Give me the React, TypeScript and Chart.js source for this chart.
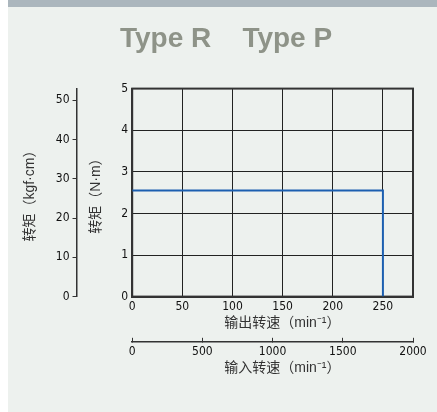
import React, { useEffect, useRef } from "react";
import { Chart, registerables } from "chart.js";

Chart.register(...registerables);

// ---- data ----
const outputSpeedTicks = [0, 50, 100, 150, 200, 250];
const inputSpeedTicks = [0, 500, 1000, 1500, 2000];
const torqueNmTicks = [0, 1, 2, 3, 4, 5];
const torqueKgfTicks = [0, 10, 20, 30, 40, 50];
const outputSpeedMax = 280;
const inputSpeedMax = 2000;
const torqueNmMax = 5;
const torqueKgfMax = 53;
const curveSpeed = [0, 250, 250];
const curveTorque = [2.55, 2.55, 0];

const titleText = "    Type R    Type P";
const xTitle = "     输出转速（min⁻¹）";
const x2Title = "     输入转速（min⁻¹）";
const yTitle = "转矩（N·m）";
const y2Title = "转矩（kgf·cm）";

const narrow = "'DejaVu Sans Condensed', 'Liberation Sans Narrow', 'Liberation Sans', sans-serif";
const cjk = "'Liberation Sans', 'Noto Sans CJK SC', sans-serif";

const tickFont = { family: narrow, size: 12 };
const titleFont = { family: cjk, size: 14 };
const ink = "#111";

const framePlugin = {
  id: "frame",
  beforeDatasetsDraw(chart: any) {
    const { ctx, chartArea } = chart;
    ctx.save();
    ctx.strokeStyle = "#333";
    ctx.lineWidth = 2;
    ctx.strokeRect(chartArea.left, chartArea.top, chartArea.right - chartArea.left, chartArea.bottom - chartArea.top);
    ctx.restore();
  },
};

const setTicks = (values: number[]) => (scale: any) => {
  scale.ticks = values.map((v) => ({ value: v }));
};
const plain = (v: any) => String(v);

export default function App() {
  const ref = useRef<HTMLCanvasElement | null>(null);

  useEffect(() => {
    if (!ref.current) return;
    const chart = new Chart(ref.current, {
      type: "line",
      data: {
        datasets: [
          {
            data: curveSpeed.map((x, i) => ({ x, y: curveTorque[i] })),
            borderColor: "#1c5fb0",
            borderWidth: 2,
            pointRadius: 0,
            tension: 0,
            xAxisID: "x",
            yAxisID: "y",
          },
        ],
      },
      options: {
        animation: false,
        responsive: false,
        devicePixelRatio: 1,
        layout: { padding: { left: 0, right: 24, top: 0, bottom: 35 } },
        plugins: {
          legend: { display: false },
          tooltip: { enabled: false },
          title: {
            display: true,
            text: titleText,
            color: "#8e9388",
            font: { family: "'Liberation Sans', Arial, sans-serif", size: 28, weight: "bold" },
            padding: { top: 15, bottom: 33 },
          },
        },
        scales: {
          x: {
            type: "linear",
            position: "bottom",
            weight: 0,
            min: 0,
            max: outputSpeedMax,
            afterBuildTicks: setTicks(outputSpeedTicks),
            grid: { color: "#222", lineWidth: 1, drawTicks: false },
            border: { display: true, color: "#333", width: 2 },
            ticks: { padding: 3, font: tickFont, color: ink, maxRotation: 0, callback: plain },
            title: { display: true, text: xTitle, font: titleFont, color: "#333", padding: { top: -2, bottom: 10 } },
          },
          x2: {
            type: "linear",
            position: "bottom",
            weight: 1,
            min: 0,
            max: inputSpeedMax,
            afterBuildTicks: setTicks(inputSpeedTicks),
            grid: { drawOnChartArea: false, drawTicks: true, tickLength: -4, color: "#333", lineWidth: 1 },
            border: { display: true, color: "#333", width: 1.5 },
            ticks: { padding: 7, font: tickFont, color: ink, maxRotation: 0, callback: plain },
            title: { display: true, text: x2Title, font: titleFont, color: "#333", padding: { top: -6, bottom: 0 } },
          },
          y: {
            type: "linear",
            position: "left",
            weight: 0,
            min: 0,
            max: torqueNmMax,
            afterBuildTicks: setTicks(torqueNmTicks),
            grid: { color: "#222", lineWidth: 1, drawTicks: false },
            border: { display: true, color: "#333", width: 2 },
            ticks: { padding: 4, font: tickFont, color: ink, callback: plain },
            title: { display: true, text: yTitle, font: titleFont, color: "#333", padding: { top: 11, bottom: 13 } },
          },
          y2: {
            type: "linear",
            position: "left",
            weight: 1,
            min: 0,
            max: torqueKgfMax,
            afterBuildTicks: setTicks(torqueKgfTicks),
            grid: { drawOnChartArea: false, drawTicks: true, tickLength: 4, color: "#333", lineWidth: 1 },
            border: { display: true, color: "#333", width: 1.5 },
            ticks: { padding: 3, font: tickFont, color: ink, callback: plain },
            title: { display: true, text: y2Title, font: titleFont, color: "#333", padding: { top: 14, bottom: 14 } },
          },
        },
      } as any,
      plugins: [framePlugin],
    });
    return () => chart.destroy();
  }, []);

  return (
    <div style={{ position: "absolute", left: 8, top: 0, width: 429, height: 412, background: "#edf1ee" }}>
      <div style={{ height: 7, background: "#abb6bd" }} />
      <canvas ref={ref} width={429} height={405} style={{ display: "block" }} />
    </div>
  );
}
